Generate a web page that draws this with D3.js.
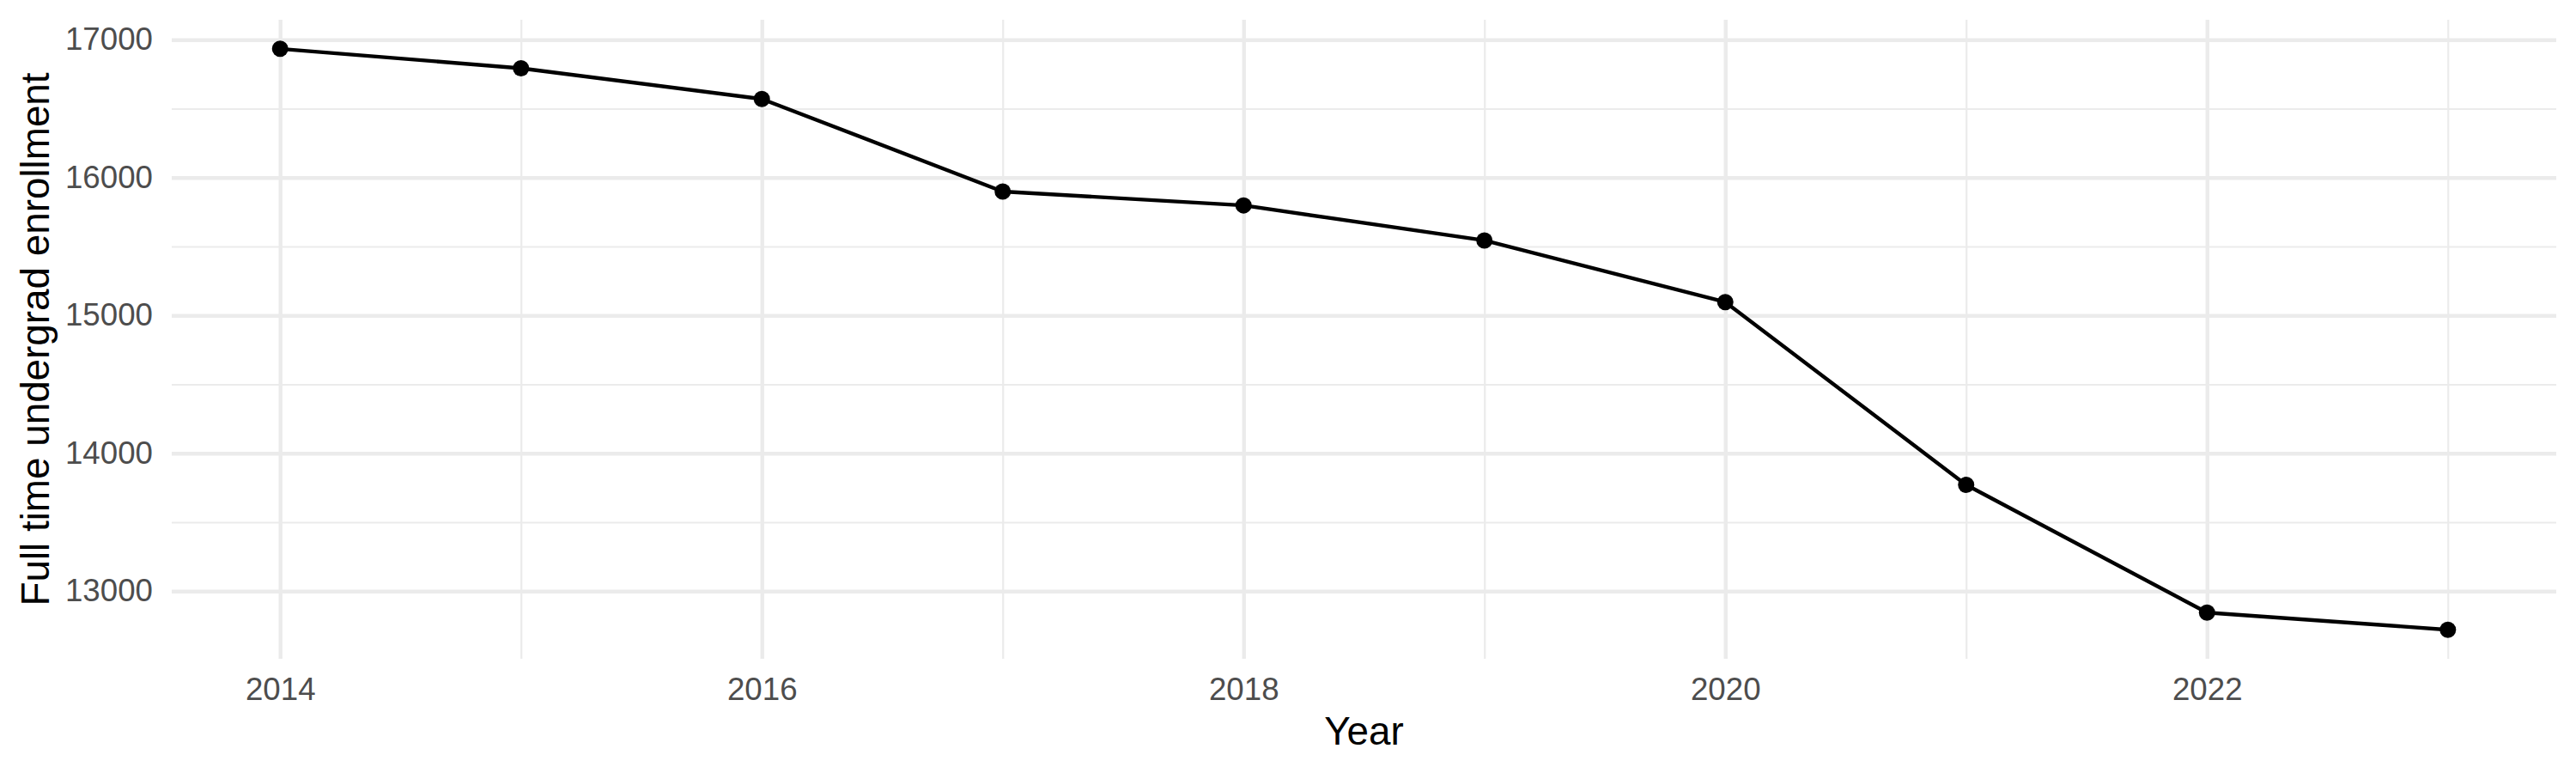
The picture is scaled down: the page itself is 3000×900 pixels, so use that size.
<!DOCTYPE html>
<html>
<head>
<meta charset="utf-8">
<script src="https://cdn.jsdelivr.net/npm/d3@7"></script>
<style>
  body { margin: 0; background: #fff; }
  text { font-family: "Liberation Sans", Arial, sans-serif; }
</style>
</head>
<body>
<script>
const years = [2014, 2015, 2016, 2017, 2018, 2019, 2020, 2021, 2022, 2023];
const enrollment = [16934, 16793, 16570, 15899, 15798, 15544, 15097, 13771, 12844, 12720];

const xTicks = [2014, 2016, 2018, 2020, 2022];
const xMinor = [2015, 2017, 2019, 2021, 2023];
const yTicks = [13000, 14000, 15000, 16000, 17000];
const yMinor = [13500, 14500, 15500, 16500];

const width = 3000;
const height = 900;
const margin = { top: 23, right: 23, bottom: 133, left: 200 };
const innerW = width - margin.left - margin.right;
const innerH = height - margin.top - margin.bottom;

const data = years.map((y, i) => ({ year: y, value: enrollment[i] }));

const svg = d3.select('body')
  .append('svg')
  .attr('width', width)
  .attr('height', height)
  .style('background-color', 'white');

// ggplot style 5% expansion
const xExt = d3.extent(years);
const yExt = d3.extent(enrollment);
const xPad = (xExt[1] - xExt[0]) * 0.05;
const yPad = (yExt[1] - yExt[0]) * 0.05;

const x = d3.scaleLinear()
  .domain([xExt[0] - xPad, xExt[1] + xPad])
  .range([0, innerW]);

const y = d3.scaleLinear()
  .domain([yExt[0] - yPad, yExt[1] + yPad])
  .range([innerH, 0]);

const g = svg.append('g')
  .attr('transform', `translate(${margin.left}, ${margin.top})`);

const gridColor = '#EBEBEB';

// minor grid
const minorX = g.append('g')
  .attr('transform', `translate(0, ${innerH})`)
  .call(d3.axisBottom(x).tickValues(xMinor).tickSize(innerH).tickFormat(''));
minorX.attr('transform', 'translate(0,0)');
const minorY = g.append('g')
  .call(d3.axisLeft(y).tickValues(yMinor).tickSize(-innerW).tickFormat(''));

[minorX, minorY].forEach(a => {
  a.select('.domain').remove();
  a.selectAll('line').attr('stroke', gridColor).attr('stroke-width', 2.2);
});

// major grid
const majorX = g.append('g')
  .call(d3.axisBottom(x).tickValues(xTicks).tickSize(innerH).tickFormat(''));
const majorY = g.append('g')
  .call(d3.axisLeft(y).tickValues(yTicks).tickSize(-innerW).tickFormat(''));

[majorX, majorY].forEach(a => {
  a.select('.domain').remove();
  a.selectAll('line').attr('stroke', gridColor).attr('stroke-width', 4.4);
});

// axis labels
const xAxis = g.append('g')
  .attr('transform', `translate(0, ${innerH})`)
  .call(d3.axisBottom(x).tickValues(xTicks).tickSize(0).tickPadding(22).tickFormat(d3.format('d')));
const yAxis = g.append('g')
  .call(d3.axisLeft(y).tickValues(yTicks).tickSize(0).tickPadding(22).tickFormat(d3.format('d')));

[xAxis, yAxis].forEach(a => {
  a.select('.domain').remove();
  a.selectAll('text')
    .attr('fill', '#4D4D4D')
    .style('font-size', '36.7px')
    .style('font-family', '"Liberation Sans", Arial, sans-serif');
});

// line + points
const line = d3.line()
  .x(d => x(d.year))
  .y(d => y(d.value));

g.append('path')
  .datum(data)
  .attr('d', line)
  .attr('fill', 'none')
  .attr('stroke', 'black')
  .attr('stroke-width', 4.4)
  .attr('stroke-linejoin', 'round');

g.selectAll('circle')
  .data(data)
  .enter()
  .append('circle')
  .attr('cx', d => x(d.year))
  .attr('cy', d => y(d.value))
  .attr('r', 9.5)
  .attr('fill', 'black');

// titles
svg.append('text')
  .attr('x', margin.left + innerW / 2)
  .attr('y', 867)
  .attr('text-anchor', 'middle')
  .style('font-size', '45.8px')
  .attr('fill', 'black')
  .text('Year');

svg.append('text')
  .attr('transform', `translate(57, ${margin.top + innerH / 2}) rotate(-90)`)
  .attr('text-anchor', 'middle')
  .style('font-size', '45.8px')
  .attr('fill', 'black')
  .text('Full time undergrad enrollment');
</script>
</body>
</html>
